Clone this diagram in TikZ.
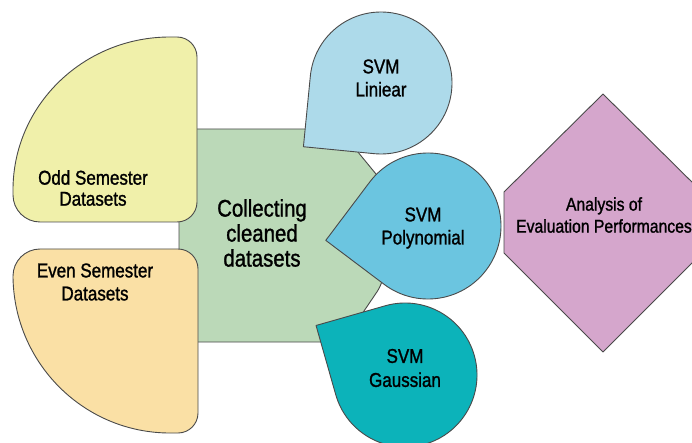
\documentclass[tikz,border=0pt]{standalone}
\usepackage{fontspec}
\setmainfont{Liberation Sans}[FakeStretch=0.85]
\newfontfamily\lblfont{Liberation Sans}[FakeStretch=0.85, FakeBold=1.2]

\definecolor{edgegray}{HTML}{4A4A4A}
\definecolor{oddfill}{HTML}{F0F0AA}
\definecolor{evenfill}{HTML}{FAE0A5}
\definecolor{collectfill}{HTML}{BBD9B8}
\definecolor{linfill}{HTML}{ADDAEA}
\definecolor{polyfill}{HTML}{6BC5E0}
\definecolor{gaussfill}{HTML}{0CB3BA}
\definecolor{evalfill}{HTML}{D5A6CC}

\tikzset{
  blob/.style={draw=edgegray, line width=0.9pt, line join=round},
  shapetext/.style={align=center, text=black, inner sep=0pt},
}

% teardrop: centre x, centre y, radius, direction of the tip, fill colour
\newcommand\teardrop[5]{%
  \begin{scope}[shift={(#1,#2)}, rotate=#4]
    \draw[blob, fill=#5] (-45:#3pt) -- ({1.41421*#3},0) -- (45:#3pt)
      arc[start angle=45, end angle=315, radius=#3pt] -- cycle;
  \end{scope}}

\begin{document}
\begin{tikzpicture}[x=1pt, y=1pt]
  \useasboundingbox (0,0) rectangle (692,-443);
  \fill[white] (0,0) rectangle (692,-443);
  \clip (0,0) rectangle (692,-443);

  % central block
  \draw[blob, fill=collectfill, rounded corners=14]
    (179,-235) -- (179,-129) -- (339,-129) -- (385,-185) -- (385,-280)
    -- (343,-342) -- (179,-342) -- cycle;
  \node[shapetext, font=\lblfont\fontsize{24}{25}\selectfont] (collect) at (262,-233)
    {Collecting\\cleaned\\datasets};

  % odd semester block
  \draw[blob, fill=oddfill]
    (13,-190) arc[start angle=180, end angle=90, x radius=157pt, y radius=153pt]
    -- (177,-37) arc[start angle=90, end angle=0, radius=20pt]
    -- (197,-202) arc[start angle=0, end angle=-90, radius=20pt]
    -- (40,-222) arc[start angle=270, end angle=180, radius=27pt]
    -- cycle;
  \node[shapetext, font=\lblfont\fontsize{20}{21}\selectfont] (odd) at (93,-188)
    {Odd Semester\\Datasets};

  % even semester block
  \draw[blob, fill=evenfill]
    (13,-275) arc[start angle=180, end angle=270, x radius=157pt, y radius=158pt]
    -- (178,-433) arc[start angle=270, end angle=360, radius=20pt]
    -- (198,-269) arc[start angle=0, end angle=90, radius=20pt]
    -- (40,-249) arc[start angle=90, end angle=180, radius=27pt]
    -- cycle;
  \node[shapetext, font=\lblfont\fontsize{20}{23}\selectfont] (even) at (95,-282)
    {Even Semester\\Datasets};

  % classifiers
  \teardrop{381}{-83}{71}{219.4}{linfill}
  \node[shapetext, font=\lblfont\fontsize{20}{23}\selectfont] (lin) at (381,-78)
    {SVM\\Liniear};

  \teardrop{405}{-375}{72}{150.9}{gaussfill}
  \node[shapetext, font=\lblfont\fontsize{20}{24}\selectfont] (gauss) at (405,-368)
    {SVM\\Gaussian};

  \teardrop{428}{-226}{73}{188}{polyfill}
  \node[shapetext, font=\lblfont\fontsize{20}{23}\selectfont] (poly) at (423,-228)
    {SVM\\Polynomial};

  % evaluation
  \draw[blob, fill=evalfill]
    (603,-94) -- (702,-192) -- (702,-253) -- (603,-352) -- (504,-253)
    -- (504,-192) -- cycle;
  \node[shapetext, font=\lblfont\fontsize{18.5}{22}\selectfont] (eval) at (604,-215)
    {Analysis of\\Evaluation Performances};
\end{tikzpicture}
\end{document}
